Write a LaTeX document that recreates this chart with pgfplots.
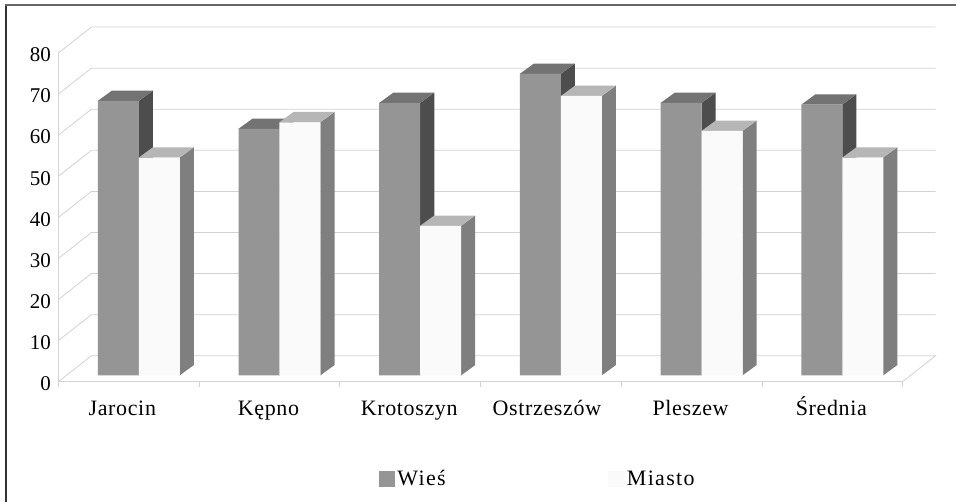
\documentclass[border=0pt]{standalone}
\usepackage{pgfplots}
\pgfplotsset{compat=1.18}
\usepackage{fontspec}
\setmainfont{Liberation Serif}
\newfontfamily\spaced[LetterSpace=3]{Liberation Serif}
\newfontfamily\spacedb[LetterSpace=6]{Liberation Serif}
\definecolor{gridc}{HTML}{D2D2D2}
\definecolor{wfront}{HTML}{959595}
\definecolor{wside}{HTML}{4D4D4D}
\definecolor{wtop}{HTML}{737373}
\definecolor{mfront}{HTML}{FAFAFA}
\definecolor{mside}{HTML}{7F7F7F}
\definecolor{mtop}{HTML}{B6B6B6}
\newcommand{\lab}{\fontsize{21}{25}\selectfont}
\newcommand{\labs}{\spaced\fontsize{22}{26}\selectfont}
\newcommand{\labl}{\spacedb\fontsize{22}{26}\selectfont}
% side and top face of one bar: left edge, right edge, value, colours
\newcommand{\faces}[5]{%
  \pgfmathsetmacro{\xa}{#2+0.1}\pgfmathsetmacro{\xb}{#1+0.1}\pgfmathsetmacro{\yt}{#3+2.5}%
  \addplot[forget plot,fill=#4,draw=none] coordinates {(#2,0) (\xa,2.5) (\xa,\yt) (#2,#3)} --cycle;
  \addplot[forget plot,fill=#5,draw=none] coordinates {(#1,#3) (#2,#3) (\xa,\yt) (\xb,\yt)} --cycle;
}
\begin{document}
\begin{tikzpicture}[x=1pt,y=1pt]
\fill[white] (0,0) rectangle (957,502);
\draw[color=black!80,line width=1.8pt] (6.3,0) -- (6.3,497);
\draw[color=black!60,line width=1.8pt] (5.4,497) -- (957,497);
\begin{axis}[
  at={(58.5pt,120pt)},anchor=south west,
  scale only axis,width=845pt,height=329pt,
  xmin=-0.5,xmax=5.5,ymin=0,ymax=80,clip=false,
  axis x line=bottom,axis y line=left,
  axis line style={-,color=gridc,line width=0.8pt},
  xtick={0,1,2,3,4,5},
  xticklabels={\hspace*{-11pt}Jarocin,Kępno,Krotoszyn,\hspace*{-6pt}Ostrzeszów,Pleszew,Średnia},
  minor xtick={-0.5,0.5,1.5,2.5,3.5,4.5,5.5},
  ytick={0,10,20,30,40,50,60,70,80},
  /pgf/number format/assume math mode=true,
  tick align=outside,major tick length=0pt,minor tick length=5.5pt,
  every tick/.style={color=gridc,line width=0.8pt},
  yticklabel style={font=\lab,xshift=-4pt,yshift=-2pt},
  xticklabel style={font=\labs,anchor=base,yshift=-34pt,xshift=-1pt},
]
\pgfplotsinvokeforeach{10,20,30,40,50,60,70,80}{
  \draw[gridc,line width=0.8pt] (axis cs:-0.5,#1) -- (axis cs:-0.266,#1+6.3) -- (axis cs:5.734,#1+6.3);
}
\draw[gridc,line width=0.8pt] (axis cs:-0.5,0) -- (axis cs:-0.266,6.3) -- (axis cs:5.734,6.3) -- (axis cs:5.5,0);
\end{axis}
\begin{axis}[
  at={(68.5pt,126.3pt)},anchor=south west,
  scale only axis,width=845pt,height=329pt,
  xmin=-0.5,xmax=5.5,ymin=0,ymax=80,clip=false,hide axis,
  legend columns=2,
  legend style={draw=none,fill=none,font=\labl,at={(axis cs:1.684,-25.2)},anchor=west,
    /tikz/every even column/.append style={column sep=161pt},
    /tikz/every odd column/.append style={column sep=0pt}},
  legend image code/.code={\fill[#1] (0pt,-8pt) rectangle (16.5pt,8pt);},
]
\faces{-0.291}{0}{66.8}{wside}{wtop}
\faces{0.709}{1}{60}{wside}{wtop}
\faces{1.709}{2}{66.3}{wside}{wtop}
\faces{2.709}{3}{73.4}{wside}{wtop}
\faces{3.709}{4}{66.3}{wside}{wtop}
\faces{4.709}{5}{65.9}{wside}{wtop}
\addplot[ybar,bar width=41pt,bar shift=-20.5pt,fill=wfront,draw=none]
  coordinates {(0,66.8) (1,60) (2,66.3) (3,73.4) (4,66.3) (5,65.9)};
\addlegendentry{Wieś}
\faces{0}{0.291}{53}{mside}{mtop}
\faces{1}{1.291}{61.6}{mside}{mtop}
\faces{2}{2.291}{36.4}{mside}{mtop}
\faces{3}{3.291}{68}{mside}{mtop}
\faces{4}{4.291}{59.5}{mside}{mtop}
\faces{5}{5.291}{53}{mside}{mtop}
\addplot[ybar,bar width=41pt,bar shift=20.5pt,fill=mfront,draw=none]
  coordinates {(0,53) (1,61.6) (2,36.4) (3,68) (4,59.5) (5,53)};
\addlegendentry{Miasto}
\end{axis}
\end{tikzpicture}
\end{document}
